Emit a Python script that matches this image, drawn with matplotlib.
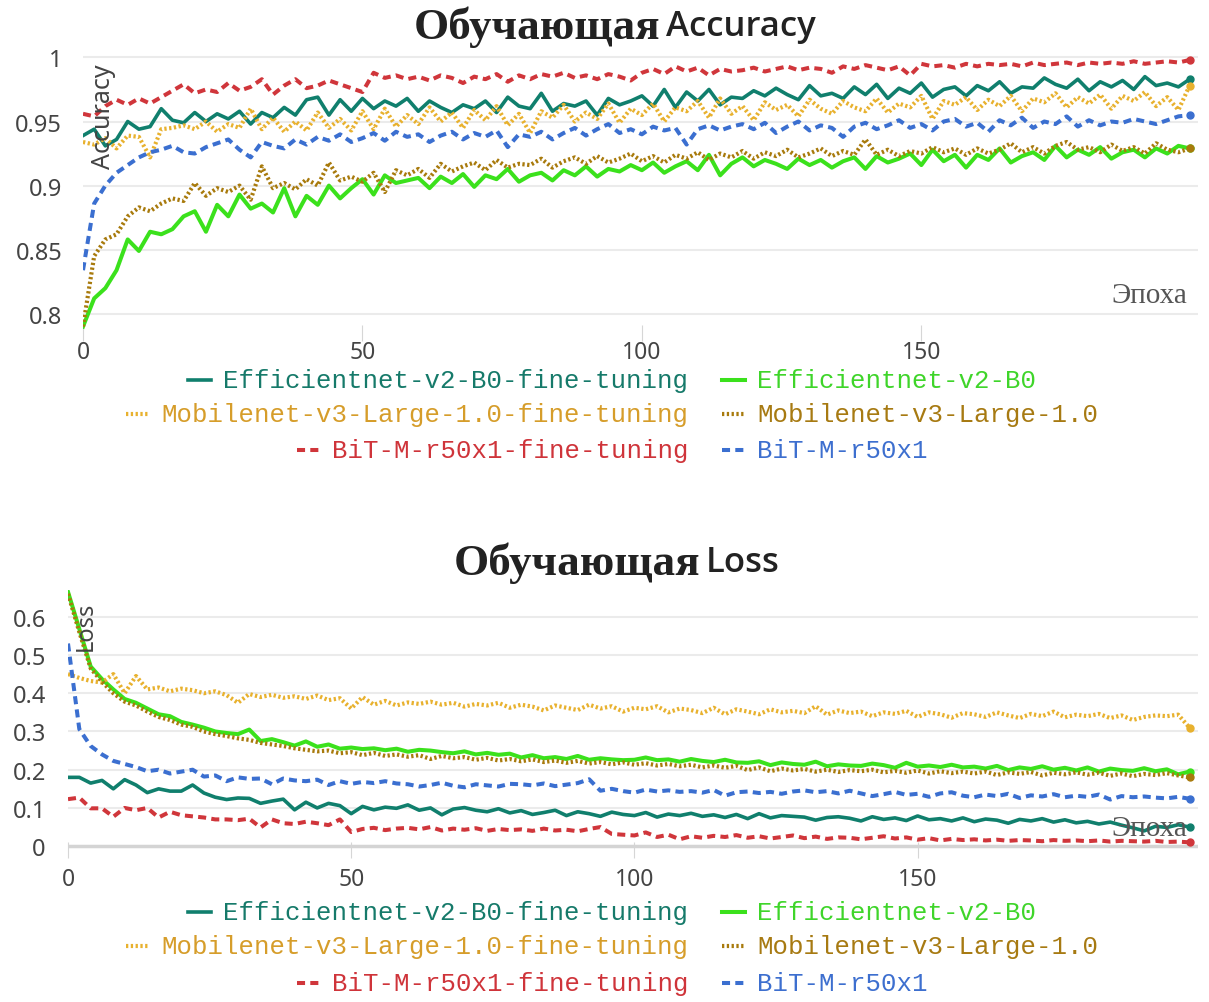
import numpy as np
import matplotlib.pyplot as plt
from matplotlib.lines import Line2D
from matplotlib.ticker import FuncFormatter

plt.rcParams['font.family'] = ['Noto Sans', 'DejaVu Sans']

W, H = 1209, 1003

# эпохи (каждая вторая)
epochs = list(range(0, 200, 2))

names = ["Efficientnet-v2-B0-fine-tuning", "Efficientnet-v2-B0",
         "Mobilenet-v3-Large-1.0-fine-tuning", "Mobilenet-v3-Large-1.0",
         "BiT-M-r50x1-fine-tuning", "BiT-M-r50x1"]

# ---- Accuracy ----
acc_eff_ft = [0.939, 0.944, 0.931, 0.936, 0.950, 0.944, 0.946, 0.960, 0.951, 0.949,
              0.957, 0.950, 0.956, 0.952, 0.958, 0.948, 0.957, 0.953, 0.961, 0.955,
              0.967, 0.969, 0.955, 0.967, 0.958, 0.968, 0.960, 0.966, 0.962, 0.968,
              0.958, 0.966, 0.961, 0.957, 0.963, 0.960, 0.966, 0.957, 0.969, 0.962,
              0.960, 0.972, 0.958, 0.964, 0.962, 0.966, 0.955, 0.968, 0.963, 0.966,
              0.970, 0.962, 0.975, 0.961, 0.973, 0.966, 0.975, 0.963, 0.969, 0.968,
              0.974, 0.970, 0.976, 0.971, 0.967, 0.978, 0.970, 0.972, 0.968, 0.977,
              0.971, 0.979, 0.968, 0.976, 0.972, 0.980, 0.969, 0.975, 0.977, 0.970,
              0.978, 0.974, 0.981, 0.972, 0.977, 0.976, 0.984, 0.979, 0.976, 0.983,
              0.974, 0.981, 0.977, 0.982, 0.975, 0.985, 0.978, 0.980, 0.977, 0.983]
acc_eff = [0.790, 0.812, 0.820, 0.834, 0.858, 0.849, 0.864, 0.862, 0.866, 0.876,
           0.880, 0.864, 0.885, 0.876, 0.893, 0.882, 0.886, 0.879, 0.898, 0.876,
           0.892, 0.885, 0.900, 0.890, 0.898, 0.905, 0.893, 0.908, 0.902, 0.904,
           0.906, 0.898, 0.907, 0.902, 0.909, 0.899, 0.908, 0.905, 0.913, 0.903,
           0.908, 0.910, 0.904, 0.912, 0.908, 0.915, 0.907, 0.913, 0.911, 0.916,
           0.912, 0.918, 0.910, 0.915, 0.919, 0.912, 0.924, 0.908, 0.917, 0.922,
           0.915, 0.920, 0.917, 0.913, 0.921, 0.916, 0.920, 0.914, 0.919, 0.922,
           0.913, 0.923, 0.918, 0.921, 0.925, 0.916, 0.928, 0.919, 0.924, 0.914,
           0.924, 0.920, 0.929, 0.918, 0.923, 0.926, 0.920, 0.931, 0.922, 0.928,
           0.924, 0.930, 0.921, 0.926, 0.928, 0.922, 0.929, 0.925, 0.931, 0.929]
acc_mob_ft = [0.934, 0.932, 0.937, 0.929, 0.939, 0.938, 0.922, 0.944, 0.945, 0.947,
              0.944, 0.950, 0.942, 0.948, 0.945, 0.960, 0.944, 0.953, 0.942, 0.950,
              0.943, 0.957, 0.945, 0.952, 0.943, 0.958, 0.944, 0.960, 0.946, 0.955,
              0.948, 0.961, 0.950, 0.957, 0.945, 0.959, 0.951, 0.962, 0.947, 0.956,
              0.941, 0.958, 0.953, 0.963, 0.950, 0.957, 0.952, 0.964, 0.949, 0.960,
              0.955, 0.964, 0.950, 0.961, 0.958, 0.966, 0.953, 0.968, 0.956, 0.962,
              0.951, 0.965, 0.959, 0.963, 0.954, 0.967, 0.960, 0.956, 0.966, 0.961,
              0.958, 0.968, 0.957, 0.964, 0.961, 0.970, 0.952, 0.966, 0.963, 0.969,
              0.959, 0.967, 0.962, 0.970, 0.958, 0.968, 0.965, 0.972, 0.961, 0.969,
              0.964, 0.971, 0.960, 0.970, 0.966, 0.973, 0.962, 0.969, 0.959, 0.978]
acc_mob = [0.790, 0.845, 0.858, 0.862, 0.876, 0.883, 0.880, 0.886, 0.890, 0.888,
           0.902, 0.892, 0.898, 0.895, 0.900, 0.889, 0.915, 0.898, 0.902, 0.897,
           0.905, 0.900, 0.918, 0.904, 0.907, 0.903, 0.910, 0.895, 0.912, 0.908,
           0.913, 0.906, 0.917, 0.911, 0.915, 0.918, 0.912, 0.920, 0.914, 0.917,
           0.916, 0.921, 0.914, 0.919, 0.922, 0.917, 0.923, 0.918, 0.921, 0.925,
           0.919, 0.923, 0.918, 0.924, 0.921, 0.926, 0.920, 0.925, 0.922, 0.927,
           0.921, 0.926, 0.923, 0.928, 0.922, 0.925, 0.929, 0.923, 0.927, 0.924,
           0.936, 0.924, 0.928, 0.923, 0.927, 0.925, 0.930, 0.926, 0.929, 0.924,
           0.929, 0.925, 0.928, 0.933, 0.926, 0.930, 0.925, 0.931, 0.934, 0.928,
           0.930, 0.926, 0.932, 0.927, 0.930, 0.925, 0.933, 0.928, 0.926, 0.929]
acc_bit_ft = [0.956, 0.954, 0.962, 0.967, 0.963, 0.968, 0.964, 0.969, 0.974, 0.979,
              0.972, 0.975, 0.973, 0.980, 0.974, 0.977, 0.983, 0.971, 0.978, 0.983,
              0.976, 0.978, 0.982, 0.979, 0.976, 0.973, 0.988, 0.984, 0.986, 0.983,
              0.985, 0.982, 0.986, 0.984, 0.980, 0.985, 0.983, 0.987, 0.981, 0.986,
              0.983, 0.987, 0.985, 0.988, 0.984, 0.986, 0.983, 0.987, 0.985, 0.982,
              0.988, 0.991, 0.987, 0.993, 0.989, 0.992, 0.986, 0.991, 0.989, 0.990,
              0.992, 0.989, 0.991, 0.993, 0.990, 0.992, 0.991, 0.988, 0.993, 0.991,
              0.994, 0.992, 0.990, 0.993, 0.986, 0.995, 0.993, 0.994, 0.992, 0.995,
              0.993, 0.995, 0.994, 0.995, 0.993, 0.996, 0.994, 0.995, 0.996, 0.994,
              0.996, 0.995, 0.996, 0.995, 0.997, 0.995, 0.996, 0.997, 0.996, 0.998]
acc_bit = [0.834, 0.886, 0.900, 0.910, 0.916, 0.922, 0.926, 0.928, 0.931, 0.926,
           0.925, 0.930, 0.933, 0.936, 0.928, 0.922, 0.934, 0.931, 0.929, 0.936,
           0.932, 0.938, 0.935, 0.940, 0.934, 0.937, 0.941, 0.935, 0.942, 0.938,
           0.940, 0.934, 0.939, 0.942, 0.936, 0.941, 0.938, 0.943, 0.930, 0.940,
           0.938, 0.942, 0.936, 0.941, 0.945, 0.939, 0.944, 0.948, 0.941, 0.944,
           0.940, 0.946, 0.943, 0.945, 0.932, 0.944, 0.947, 0.943, 0.946, 0.948,
           0.944, 0.949, 0.941, 0.946, 0.950, 0.943, 0.947, 0.945, 0.938, 0.946,
           0.949, 0.944, 0.947, 0.951, 0.945, 0.948, 0.943, 0.950, 0.952, 0.946,
           0.949, 0.942, 0.951, 0.947, 0.953, 0.945, 0.950, 0.948, 0.954, 0.946,
           0.951, 0.947, 0.950, 0.949, 0.952, 0.950, 0.948, 0.951, 0.954, 0.955]

# ---- Loss ----
loss_eff_ft = [0.180, 0.180, 0.165, 0.172, 0.150, 0.174, 0.160, 0.140, 0.150, 0.144,
               0.144, 0.160, 0.139, 0.128, 0.122, 0.126, 0.125, 0.112, 0.118, 0.123,
               0.095, 0.115, 0.100, 0.112, 0.106, 0.085, 0.104, 0.095, 0.102, 0.099,
               0.108, 0.094, 0.100, 0.082, 0.097, 0.101, 0.094, 0.090, 0.098, 0.087,
               0.093, 0.083, 0.088, 0.094, 0.080, 0.090, 0.085, 0.078, 0.089, 0.083,
               0.080, 0.088, 0.076, 0.084, 0.080, 0.086, 0.078, 0.082, 0.075, 0.083,
               0.072, 0.085, 0.074, 0.080, 0.078, 0.076, 0.068, 0.075, 0.077, 0.073,
               0.066, 0.077, 0.070, 0.074, 0.067, 0.079, 0.069, 0.072, 0.066, 0.074,
               0.064, 0.071, 0.068, 0.060, 0.070, 0.066, 0.072, 0.063, 0.069, 0.061,
               0.065, 0.058, 0.063, 0.055, 0.048, 0.040, 0.052, 0.049, 0.056, 0.050]
loss_eff = [0.665, 0.568, 0.470, 0.437, 0.410, 0.385, 0.375, 0.360, 0.345, 0.340,
            0.325, 0.318, 0.310, 0.300, 0.296, 0.293, 0.305, 0.275, 0.280, 0.272,
            0.263, 0.274, 0.260, 0.266, 0.255, 0.258, 0.254, 0.256, 0.251, 0.255,
            0.247, 0.252, 0.250, 0.246, 0.243, 0.248, 0.240, 0.244, 0.239, 0.242,
            0.232, 0.238, 0.230, 0.233, 0.228, 0.236, 0.226, 0.230, 0.227, 0.225,
            0.226, 0.232, 0.225, 0.227, 0.221, 0.228, 0.223, 0.220, 0.226, 0.219,
            0.218, 0.222, 0.212, 0.219, 0.215, 0.213, 0.221, 0.209, 0.214, 0.211,
            0.210, 0.216, 0.212, 0.205, 0.218, 0.208, 0.211, 0.207, 0.213, 0.206,
            0.208, 0.203, 0.210, 0.199, 0.206, 0.202, 0.209, 0.200, 0.205, 0.198,
            0.206, 0.195, 0.203, 0.199, 0.197, 0.204, 0.196, 0.201, 0.188, 0.195]
loss_mob_ft = [0.450, 0.440, 0.432, 0.428, 0.450, 0.400, 0.445, 0.410, 0.415, 0.405,
               0.412, 0.408, 0.400, 0.405, 0.395, 0.375, 0.398, 0.390, 0.396, 0.388,
               0.392, 0.385, 0.394, 0.382, 0.387, 0.360, 0.390, 0.370, 0.380, 0.368,
               0.376, 0.372, 0.378, 0.370, 0.375, 0.365, 0.372, 0.368, 0.375, 0.362,
               0.370, 0.365, 0.355, 0.368, 0.362, 0.356, 0.370, 0.360, 0.366, 0.352,
               0.362, 0.358, 0.366, 0.350, 0.360, 0.356, 0.348, 0.362, 0.345, 0.358,
               0.352, 0.345, 0.358, 0.350, 0.354, 0.348, 0.366, 0.344, 0.355, 0.348,
               0.352, 0.340, 0.350, 0.346, 0.354, 0.338, 0.350, 0.345, 0.336, 0.348,
               0.345, 0.338, 0.350, 0.342, 0.335, 0.346, 0.340, 0.352, 0.337, 0.344,
               0.340, 0.346, 0.335, 0.342, 0.330, 0.338, 0.342, 0.340, 0.344, 0.310]
loss_mob = [0.660, 0.560, 0.465, 0.430, 0.400, 0.378, 0.368, 0.352, 0.338, 0.330,
            0.318, 0.312, 0.300, 0.293, 0.288, 0.282, 0.278, 0.270, 0.266, 0.262,
            0.256, 0.252, 0.248, 0.250, 0.243, 0.246, 0.238, 0.244, 0.236, 0.240,
            0.234, 0.238, 0.228, 0.236, 0.230, 0.233, 0.226, 0.231, 0.224, 0.228,
            0.222, 0.227, 0.220, 0.224, 0.218, 0.223, 0.216, 0.220, 0.214, 0.219,
            0.213, 0.217, 0.211, 0.215, 0.209, 0.213, 0.206, 0.211, 0.205, 0.210,
            0.199, 0.206, 0.196, 0.203, 0.198, 0.202, 0.195, 0.200, 0.194, 0.199,
            0.196, 0.200, 0.193, 0.197, 0.192, 0.198, 0.190, 0.196, 0.191, 0.195,
            0.190, 0.195, 0.186, 0.193, 0.189, 0.194, 0.185, 0.192, 0.188, 0.193,
            0.187, 0.192, 0.184, 0.190, 0.183, 0.189, 0.186, 0.191, 0.185, 0.180]
loss_bit_ft = [0.123, 0.127, 0.099, 0.099, 0.077, 0.100, 0.094, 0.100, 0.075, 0.090,
               0.081, 0.078, 0.075, 0.070, 0.070, 0.068, 0.072, 0.049, 0.070, 0.060,
               0.058, 0.064, 0.060, 0.055, 0.070, 0.037, 0.045, 0.048, 0.042, 0.046,
               0.048, 0.044, 0.050, 0.041, 0.046, 0.043, 0.047, 0.040, 0.045, 0.042,
               0.044, 0.040, 0.046, 0.041, 0.043, 0.039, 0.045, 0.050, 0.032, 0.030,
               0.028, 0.036, 0.024, 0.030, 0.018, 0.026, 0.022, 0.027, 0.024, 0.029,
               0.022, 0.026, 0.020, 0.024, 0.028, 0.021, 0.025, 0.019, 0.023, 0.022,
               0.018, 0.022, 0.026, 0.020, 0.023, 0.017, 0.021, 0.015, 0.019, 0.016,
               0.018, 0.015, 0.017, 0.014, 0.016, 0.015, 0.013, 0.016, 0.014, 0.015,
               0.013, 0.015, 0.012, 0.014, 0.013, 0.012, 0.014, 0.011, 0.012, 0.010]
loss_bit = [0.530, 0.306, 0.262, 0.240, 0.223, 0.215, 0.207, 0.196, 0.200, 0.190,
            0.195, 0.200, 0.182, 0.185, 0.170, 0.180, 0.176, 0.177, 0.162, 0.177,
            0.172, 0.170, 0.174, 0.160, 0.170, 0.163, 0.168, 0.165, 0.170, 0.164,
            0.162, 0.156, 0.160, 0.166, 0.158, 0.154, 0.162, 0.159, 0.156, 0.163,
            0.162, 0.159, 0.164, 0.157, 0.161, 0.165, 0.175, 0.145, 0.150, 0.144,
            0.140, 0.148, 0.143, 0.146, 0.142, 0.144, 0.140, 0.147, 0.132, 0.141,
            0.143, 0.139, 0.142, 0.137, 0.143, 0.146, 0.141, 0.144, 0.138, 0.145,
            0.138, 0.131, 0.136, 0.142, 0.134, 0.137, 0.129, 0.138, 0.141, 0.132,
            0.128, 0.135, 0.131, 0.137, 0.126, 0.133, 0.130, 0.136, 0.128, 0.132,
            0.129, 0.135, 0.122, 0.131, 0.128, 0.130, 0.127, 0.125, 0.129, 0.124]

acc_series = [acc_eff_ft, acc_eff, acc_mob_ft, acc_mob, acc_bit_ft, acc_bit]
loss_series = [loss_eff_ft, loss_eff, loss_mob_ft, loss_mob, loss_bit_ft, loss_bit]

colors = ['#107f6d', '#3be11c', '#e8b12e', '#a87a0c', '#d0363b', '#3b6fd0']
text_colors = ['#167a6a', '#3fd52a', '#d69d2a', '#a77a12', '#cf343a', '#3d6fcf']
dot = (0, (0.55, 0.6))
dash = (0, (2.0, 1.3))
styles = ['-', '-', dot, dot, dash, dash]
widths = [2.6, 2.9, 3.0, 3.0, 2.9, 2.9]

fig = plt.figure(figsize=(W / 100, H / 100), dpi=100)


def px_axes(left, top, right, bottom):
    return fig.add_axes([left / W, 1 - bottom / H, (right - left) / W, (bottom - top) / H])


def style_axes(ax, ylim, yticks, xpad, ypad):
    ax.set_xlim(0, 199.5)
    ax.set_ylim(*ylim)
    ax.set_xticks([0, 50, 100, 150])
    ax.set_yticks(yticks)
    ax.yaxis.set_major_formatter(FuncFormatter(lambda v, p: f"{v:g}"))
    for s in ax.spines.values():
        s.set_visible(False)
    ax.grid(axis='y', color='#ebebeb', lw=1.5)
    ax.set_axisbelow(True)
    ax.tick_params(axis='y', length=0, labelsize=17, labelcolor='#444', pad=ypad)
    ax.tick_params(axis='x', direction='inout', length=12, color='#d6d6d6',
                   labelsize=16.5, labelcolor='#444', pad=xpad)


def plot_series(ax, series):
    for i, vals in enumerate(series):
        x = epochs[:len(vals)]
        ax.plot(x, vals, color=colors[i], ls=styles[i], lw=widths[i],
                marker='o', markevery=[len(vals) - 1], ms=5, zorder=3 + i * 0.1)


def draw_legend(rows_y):
    renderer = fig.canvas.get_renderer()
    for row, (i, j) in enumerate([(0, 1), (2, 3), (4, 5)]):
        y = 1 - rows_y[row] / H
        for k, x, ha in [(i, 688, 'right'), (j, 757, 'left')]:
            t = fig.text(x / W, y, names[k], ha=ha, va='center', family='Liberation Mono',
                         fontsize=18.5, color=text_colors[k])
            bb = t.get_window_extent(renderer)
            x0 = bb.x0 - 35
            fig.add_artist(Line2D([x0 / W, (x0 + 23) / W], [y, y], transform=fig.transFigure,
                                  color=colors[k], ls=styles[k], lw=widths[k]))


def title(text_ru, text_en, split_x, y):
    fig.text(split_x / W, 1 - y / H, text_ru, ha='right', va='center',
             family='Liberation Serif', weight='bold', fontsize=32.5, color='#222')
    fig.text((split_x + 6) / W, 1 - y / H, text_en, ha='left', va='center',
             family='Open Sans', weight='semibold', fontsize=25, color='#222')


# верхний график
ax1 = px_axes(83, 52, 1198, 334)
plot_series(ax1, acc_series)
style_axes(ax1, (0.785, 1.005), [0.8, 0.85, 0.9, 0.95, 1.0], xpad=-1, ypad=15)
title("Обучающая", "Accuracy", 660, 27)
fig.text(103 / W, 1 - 64 / H, "Accuracy", rotation=90, ha='center', va='top',
         fontsize=18, color='#444')
fig.text(1187 / W, 1 - 296 / H, "Эпоха", ha='right', va='center',
         family='Liberation Serif', fontsize=21, color='#555')
draw_legend([381, 415, 451])

# нижний график
ax2 = px_axes(68, 591, 1198, 851)
plot_series(ax2, loss_series)
style_axes(ax2, (-0.01, 0.67), [0, 0.1, 0.2, 0.3, 0.4, 0.5, 0.6], xpad=6, ypad=16)
ax2.axhline(0, color='#d4d4d4', lw=2.5, zorder=1)
title("Обучающая", "Loss", 700, 563)
fig.text(86 / W, 1 - 602 / H, "Loss", rotation=90, ha='center', va='top',
         fontsize=17, color='#444')
fig.text(1187 / W, 1 - 829 / H, "Эпоха", ha='right', va='center',
         family='Liberation Serif', fontsize=21, color='#555')
draw_legend([913, 947, 984])

fig.savefig("out.png", dpi=100)
